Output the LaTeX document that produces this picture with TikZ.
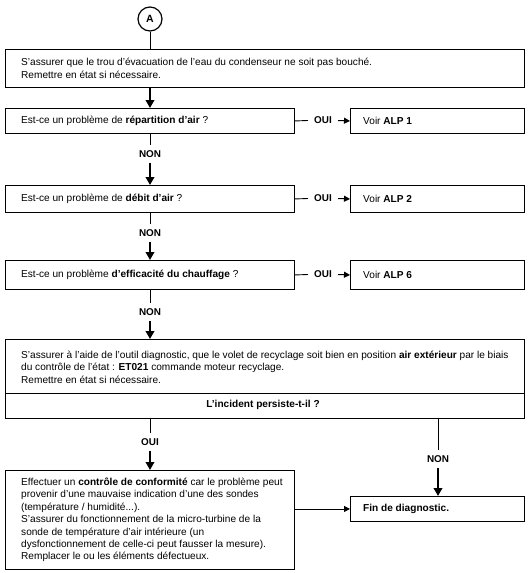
\documentclass[tikz,border=0pt]{standalone}
\usepackage{fontspec}
\setmainfont{Liberation Sans}
\usetikzlibrary{arrows.meta,calc}
\begin{document}
\begin{tikzpicture}[x=1pt,y=-1pt,
  box/.style={draw, line width=0.9pt, rectangle, inner sep=0pt, anchor=north west},
  txt/.style={font=\fontsize{10.1}{12.4}\selectfont, align=left, inner sep=0pt, anchor=west},
  lbl/.style={font=\fontsize{9.9}{12}\selectfont\bfseries, inner xsep=6pt, inner ysep=5pt},
  thinline/.style={line width=0.9pt},
  bigarrow/.style={line width=2.2pt, -{Triangle[length=8pt,width=8.5pt]}},
  smallarrow/.style={line width=1pt, -{Triangle[length=6pt,width=6pt]}}]
\useasboundingbox (0,0) rectangle (528,573);

\node[circle, draw, line width=1.2pt, minimum size=24pt, inner sep=0pt, font=\bfseries\fontsize{10.5}{12}\selectfont] (A) at (150,19) {A};

% box 1
\node[box, minimum width=519pt, minimum height=38pt] (b1) at (5,49) {};
\node[txt] (t1) at ([xshift=16pt]b1.west) {S’assurer que le trou d’évacuation de l’eau du condenseur ne soit pas bouché.\\Remettre en état si nécessaire.};

% box 2
\node[box, minimum width=289pt, minimum height=25pt] (b2) at (5,108) {};
\node[txt] (t2) at ([xshift=16pt]b2.west) {Est-ce un problème de \textbf{répartition d’air} ?};
\node[box, minimum width=174pt, minimum height=25pt] (v1) at (350,108) {};
\node[txt] (tv1) at ([xshift=13pt]v1.west) {Voir \textbf{ALP 1}};

% box 3
\node[box, minimum width=289pt, minimum height=27pt] (b3) at (5,185) {};
\node[txt] (t3) at ([xshift=16pt]b3.west) {Est-ce un problème de \textbf{débit d’air} ?};
\node[box, minimum width=174pt, minimum height=27pt] (v2) at (350,185) {};
\node[txt] (tv2) at ([xshift=13pt]v2.west) {Voir \textbf{ALP 2}};

% box 4
\node[box, minimum width=289pt, minimum height=29pt] (b4) at (5,260) {};
\node[txt] (t4) at ([xshift=16pt]b4.west) {Est-ce un problème \textbf{d’efficacité du chauffage} ?};
\node[box, minimum width=174pt, minimum height=29pt] (v6) at (350,260) {};
\node[txt] (tv6) at ([xshift=13pt]v6.west) {Voir \textbf{ALP 6}};

% box 5
\node[box, minimum width=519pt, minimum height=79pt] (b5) at (5,339) {};
\coordinate (d) at (0,393);
\draw[thinline] (b5.west |- d) -- (b5.east |- d);
\node[txt] (t5) at (21,367) {S’assurer à l’aide de l’outil diagnostic, que le volet de recyclage soit bien en position \textbf{air extérieur} par le biais\\du contrôle de l’état : \textbf{ET021} commande moteur recyclage.\\Remettre en état si nécessaire.};
\node[txt, anchor=center] (t5b) at (263,405) {\bfseries L’incident persiste-t-il ?};

% box 6
\node[box, minimum width=289pt, minimum height=99pt] (b6) at (5,470) {};
\node[txt] (t6) at ([xshift=16pt]b6.west) {Effectuer un \textbf{contrôle de conformité} car le problème peut\\provenir d’une mauvaise indication d’une des sondes\\(température / humidité...).\\S’assurer du fonctionnement de la micro-turbine de la\\sonde de température d’air intérieure (un\\dysfonctionnement de celle-ci peut fausser la mesure).\\Remplacer le ou les éléments défectueux.};

% box 7
\node[box, minimum width=174pt, minimum height=25pt] (b7) at (350,496) {};
\node[txt] (t7) at ([xshift=13pt]b7.west) {\bfseries Fin de diagnostic.};

% labels
\node[lbl] (n1) at (150,154) {NON};
\node[lbl] (n2) at (150,233) {NON};
\node[lbl] (n3) at (150,312) {NON};
\node[lbl] (o1) at (323,120.5) {OUI};
\node[lbl] (o2) at (323,198.5) {OUI};
\node[lbl] (o3) at (323,274.5) {OUI};
\node[lbl] (o4) at (150,442) {OUI};
\node[lbl] (n4) at (438,459) {NON};

% connectors
\draw[thinline] (A.south) -- (b1.north -| A);
\draw[bigarrow] (b1.south -| A) -- (b2.north -| A);
\draw[thinline] (b2.south -| A) -- (n1.north);
\draw[bigarrow] (n1.south) -- (b3.north -| A);
\draw[thinline] (b3.south -| A) -- (n2.north);
\draw[bigarrow] (n2.south) -- (b4.north -| A);
\draw[thinline] (b4.south -| A) -- (n3.north);
\draw[bigarrow] (n3.south) -- (b5.north -| A);

\draw[thinline] (b2.east) -- (o1.west);
\draw[smallarrow] (o1.east) -- (v1.west);
\draw[thinline] (b3.east) -- (o2.west);
\draw[smallarrow] (o2.east) -- (v2.west);
\draw[thinline] (b4.east) -- (o3.west);
\draw[smallarrow] (o3.east) -- (v6.west);

\draw[thinline] (b5.south -| o4) -- (o4.north);
\draw[bigarrow] (o4.south) -- (b6.north -| o4);
\draw[thinline] (b5.south -| n4) -- (n4.north);
\draw[bigarrow] (n4.south) -- (b7.north -| n4);

\draw[smallarrow, line width=0.8pt] (b6.east |- b7.west) -- (b7.west);
\end{tikzpicture}
\end{document}
